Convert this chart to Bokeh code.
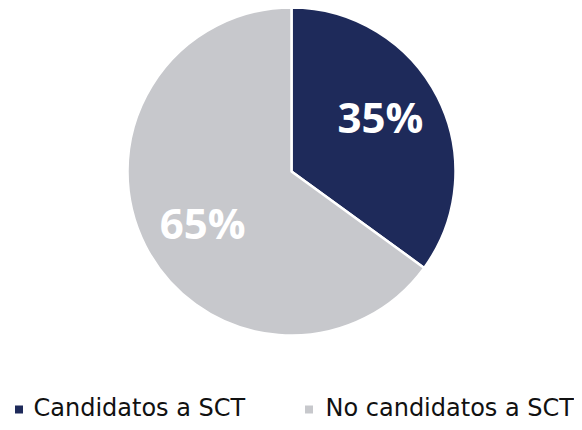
import math
from bokeh.plotting import figure
from bokeh.models import Range1d, ColumnDataSource
from bokeh.core.properties import value
from bokeh.embed import file_html
from bokeh.resources import INLINE

categories = ["Candidatos a SCT", "No candidatos a SCT"]
shares = [35, 65]
labels = ["35%", "65%"]
colors = ["#1E2A5A", "#C7C8CC"]

W, H = 574, 422
p = figure(width=W, height=H, output_backend="svg", toolbar_location=None,
           x_range=Range1d(0, W), y_range=Range1d(0, H), min_border=0)
p.axis.visible = False
p.grid.visible = False
p.outline_line_color = None
p.background_fill_color = "white"
p.border_fill_color = "white"

cx, cy, R = 291, 251, 164
total = sum(shares)
starts, ends, mids = [], [], []
a = math.pi / 2
for s in shares:
    sweep = 2 * math.pi * s / total
    ends.append(a)
    starts.append(a - sweep)
    mids.append(a - sweep / 2)
    a -= sweep

src = ColumnDataSource(dict(start=starts, end=ends, color=colors))
p.wedge(x=cx, y=cy, radius=R, start_angle="start", end_angle="end",
        fill_color="color", line_color="white", line_width=2.5, source=src)

rl = 0.632 * R
rot = math.radians(4)
lx = [cx + rl * math.cos(m + rot) for m in mids]
ly = [cy + rl * math.sin(m + rot) + 2 for m in mids]
p.text(x=lx, y=ly, text=labels, text_color="white", text_align="center",
       text_baseline="middle", text_font=value("Open Sans"),
       text_font_style="bold", text_font_size="42px")

# legend
leg_y = 14.5
sq_x = [18.5, 308.5]
txt_x = [33, 325]
p.scatter(x=sq_x, y=[leg_y - 1.5] * 2, marker="square", size=8, fill_color=colors, line_color=None)
p.text(x=txt_x, y=[leg_y] * 2, text=categories, text_color="#111111", text_align="left",
       text_baseline="middle", text_font=value("DejaVu Sans"), text_font_size="24px")

open("out.html", "w").write(file_html(p, INLINE))
